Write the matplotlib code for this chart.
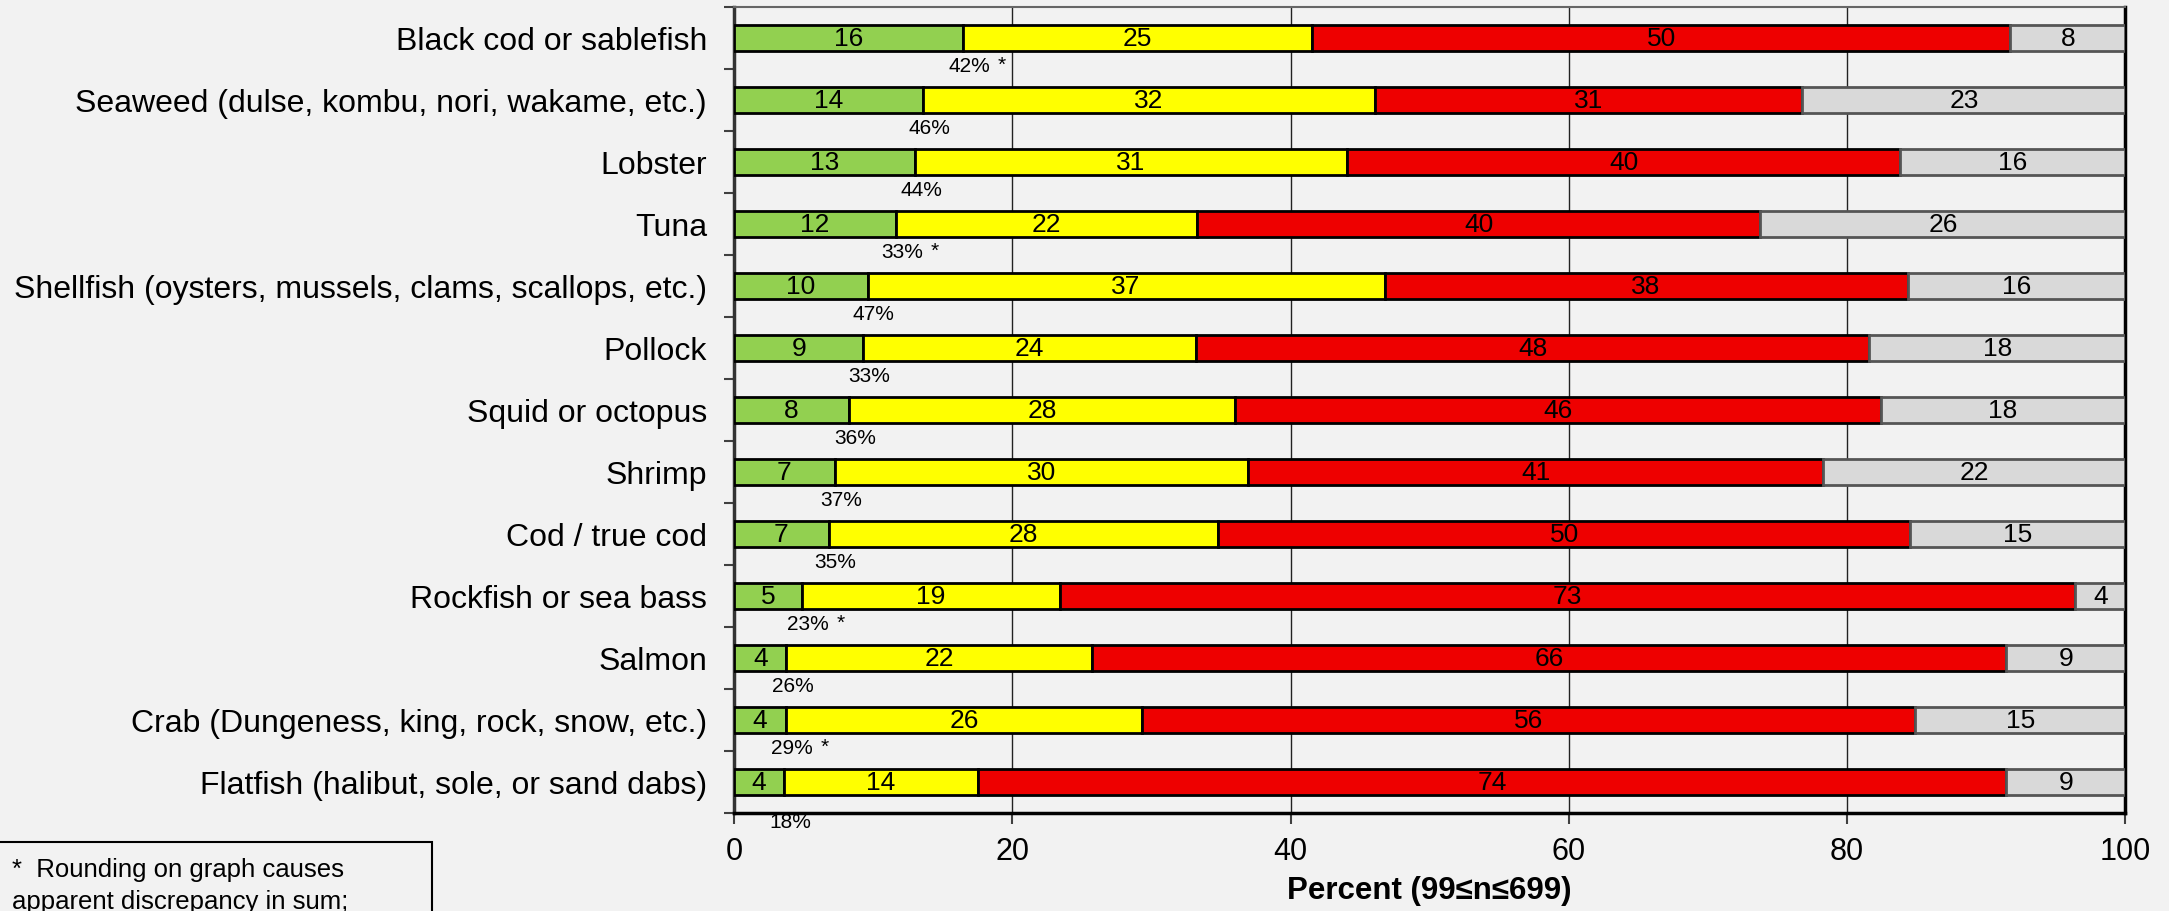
import numpy as np
import matplotlib
matplotlib.use('Agg')
import matplotlib.pyplot as plt
from matplotlib.patches import Rectangle

plt.rcParams['font.family'] = ['Liberation Sans', 'DejaVu Sans']

# ── Data ──────────────────────────────────────────────────────────────────────
categories = [
    'Black cod or sablefish',
    'Seaweed (dulse, kombu, nori, wakame, etc.)',
    'Lobster',
    'Tuna',
    'Shellfish (oysters, mussels, clams, scallops, etc.)',
    'Pollock',
    'Squid or octopus',
    'Shrimp',
    'Cod / true cod',
    'Rockfish or sea bass',
    'Salmon',
    'Crab (Dungeness, king, rock, snow, etc.)',
    'Flatfish (halibut, sole, or sand dabs)',
]
green  = [16.46, 13.61, 13.03, 11.67, 9.60, 9.30, 8.28, 7.26, 6.82, 4.89, 3.77, 3.73, 3.60]
yellow = [25.11, 32.44, 31.02, 21.62, 37.16, 23.89, 27.76, 29.69, 28.00, 18.56, 21.99, 25.60, 13.91]
red    = [50.15, 30.74, 39.76, 40.47, 37.58, 48.40, 46.37, 41.31, 49.72, 72.94, 65.66, 55.55, 73.91]
gray   = [8.28, 23.21, 16.19, 26.24, 15.66, 18.41, 17.59, 21.74, 15.46, 3.61, 8.58, 15.12, 8.58]

x_ticks = [0, 20, 40, 60, 80, 100]

# ── Figure ────────────────────────────────────────────────────────────────────
BG = '#F2F2F2'
fig = plt.figure(figsize=(21.69, 9.12), dpi=100)
fig.patch.set_facecolor(BG)
ax = fig.add_axes([0.3384, 0.1077, 0.9799 - 0.3384, 0.9915 - 0.1077])
ax.set_facecolor(BG)

n = len(categories)
y = np.arange(n)
bar_h = 0.415

segments = [
    (green,  '#92D050', 'black'),
    (yellow, '#FFFF00', 'black'),
    (red,    '#EE0000', 'black'),
    (gray,   '#D9D9D9', '#555555'),
]
left = np.zeros(n)
for vals, fc, ec in segments:
    vals = np.array(vals)
    ax.barh(y, vals, left=left, height=bar_h, color=fc,
            edgecolor=ec, linewidth=2.0, zorder=3)
    for yi, l, v in zip(y, left, vals):
        ax.text(l + v / 2, yi, f'{round(v)}', ha='center', va='center',
                fontsize=19, color='black', zorder=4)
    left = left + vals

# green + yellow sum labels, asterisk where rounding disagrees
for i in range(n):
    tot = green[i] + yellow[i]
    pct = round(tot)
    dy = 0.645 if i == n - 1 else 0.455
    xpos = green[i] + 0.45
    ax.text(xpos, i + dy, f'{pct}%', ha='center', va='center',
            fontsize=15, color='black', zorder=4, clip_on=False)
    if round(green[i]) + round(yellow[i]) != pct:
        ax.annotate('*', xy=(xpos, i + dy), xytext=(20.5, 1.5),
                    textcoords='offset points', ha='left', va='center',
                    fontsize=15, annotation_clip=False)

# ── Axes formatting ───────────────────────────────────────────────────────────
ax.set_xlim(0, 100)
ax.set_ylim(n - 0.5, -0.5)
ax.set_xticks(x_ticks)
ax.set_xticklabels([str(t) for t in x_ticks], fontsize=22)
ax.tick_params(axis='x', length=8, width=1.5, color='#404040', pad=9)
ax.set_yticks(y)
ax.set_yticklabels(categories, fontsize=23)
ax.tick_params(axis='y', which='major', length=0, pad=19.5)
ax.set_yticks(np.arange(n + 1) - 0.5, minor=True)
ax.tick_params(axis='y', which='minor', length=7, width=1.5, color='#404040')

ax.grid(axis='x', color='#222222', linewidth=1.0, zorder=0)
ax.set_axisbelow(True)

ax.spines['left'].set_color('#333333')
ax.spines['left'].set_linewidth(2.5)
ax.spines['bottom'].set_color('black')
ax.spines['bottom'].set_linewidth(2.5)
ax.spines['right'].set_color('black')
ax.spines['right'].set_linewidth(2.5)
ax.spines['top'].set_color('#666666')
ax.spines['top'].set_linewidth(1.5)

ax.set_xlabel('Percent (99≤n≤699)', fontsize=22.5, fontweight='bold', labelpad=6)

# ── Footnote box (bottom-left, runs off the figure) ──────────────────────────
box = Rectangle((-0.01, -0.2), 0.2090, 1 - 843 / 912 + 0.2,
                transform=fig.transFigure,
                facecolor='none', edgecolor='black', linewidth=1.5)
fig.patches.append(box)
fig.text(12 / 2169, 1 - 870 / 912, '*  Rounding on graph causes',
         fontsize=18.5, ha='left', va='center')
fig.text(12 / 2169, 1 - 902 / 912, 'apparent discrepancy in sum;',
         fontsize=18.5, ha='left', va='center')

plt.savefig('out.png', dpi=100, facecolor=BG)
